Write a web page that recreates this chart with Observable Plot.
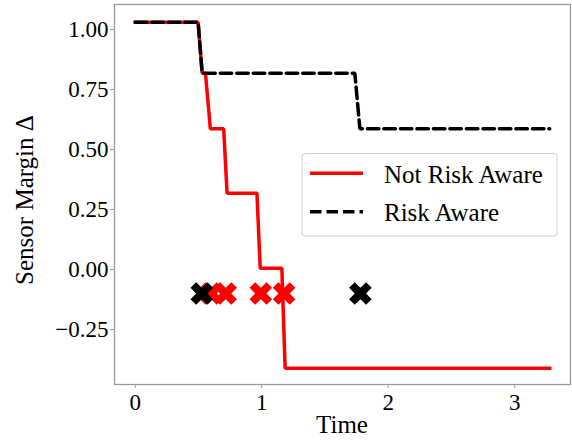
<!DOCTYPE html>
<html>
<head>
<meta charset="utf-8">
<script src="https://cdn.jsdelivr.net/npm/d3@7"></script>
<script src="https://cdn.jsdelivr.net/npm/@observablehq/plot@0.6"></script>
<style>
  html, body { margin: 0; padding: 0; background: white; }
  #chart { position: relative; width: 572px; height: 440px; }
</style>
</head>
<body>
<div id="chart"></div>
<script>
// ---- data ----
const redTime   = [0, 0.497, 0.529, 0.555, 0.594, 0.699, 0.726, 0.962, 0.988, 1.159, 1.185, 3.277];
const redMargin = [1.03, 1.03, 0.818, 0.818, 0.586, 0.586, 0.318, 0.318, 0.005, 0.005, -0.411, -0.411];
const blackTime   = [0, 0.497, 0.529, 1.736, 1.776, 3.277];
const blackMargin = [1.03, 1.03, 0.818, 0.818, 0.586, 0.586];
const redEventTime = [0.60, 0.715, 0.993, 1.177];
const blackEventTime = [0.526, 1.78];
const eventLevel = -0.1;
const xTicks = [0, 1, 2, 3];
const yTicks = [-0.25, 0, 0.25, 0.5, 0.75, 1.0];
const seriesNames = ["Not Risk Aware", "Risk Aware"];

const redData = redTime.map((t, i) => ({t, v: redMargin[i]}));
const blackData = blackTime.map((t, i) => ({t, v: blackMargin[i]}));
const redEvents = redEventTime.map(t => ({t, v: eventLevel}));
const blackEvents = blackEventTime.map(t => ({t, v: eventLevel}));

// filled "X" marker like matplotlib's
const XSymbol = {
  draw(ctx, size) {
    const r = Math.sqrt(size / Math.PI);
    const u = r / 2;
    const pts = [[-1,-2],[0,-1],[1,-2],[2,-1],[1,0],[2,1],[1,2],[0,1],[-1,2],[-2,1],[-1,0],[-2,-1]];
    ctx.moveTo(pts[0][0]*u, pts[0][1]*u);
    for (let i = 1; i < pts.length; i++) ctx.lineTo(pts[i][0]*u, pts[i][1]*u);
    ctx.closePath();
  }
};

const FONT = "Liberation Serif, Times New Roman, serif";
const fmtY = d => (d < 0 ? "\u2212" : "") + Math.abs(d).toFixed(2);

const chart = Plot.plot({
  width: 572,
  height: 440,
  marginLeft: 114,
  marginRight: 2,
  marginTop: 4,
  marginBottom: 56,
  style: {fontFamily: FONT, fontSize: "23px", color: "#000", background: "white"},
  x: {domain: [-0.164, 3.441]},
  y: {domain: [-0.479, 1.104]},
  marks: [
    Plot.axisX({ticks: xTicks, tickSize: 4, tickPadding: 5, stroke: "#999", fill: "#000", tickFormat: d => String(d), label: null, fontSize: 23}),
    Plot.axisY({ticks: yTicks, tickSize: 4, tickPadding: 2, stroke: "#999", fill: "#000", tickFormat: fmtY, label: null, fontSize: 23}),
    Plot.line(redData, {x: "t", y: "v", stroke: "#ff0000", strokeWidth: 3.5, strokeLinejoin: "miter", strokeLinecap: "square"}),
    Plot.line(blackData, {x: "t", y: "v", stroke: "#000", strokeWidth: 3.5, strokeDasharray: "11.5,5", strokeLinejoin: "miter"}),
    Plot.dot(redEvents, {x: "t", y: "v", symbol: XSymbol, r: 11.3, fill: "#ff0000", stroke: "none"}),
    Plot.dot(blackEvents, {x: "t", y: "v", symbol: XSymbol, r: 11.3, fill: "#000", stroke: "none"}),
    Plot.frame({stroke: "#999", strokeWidth: 1.3})
  ]
});

document.getElementById("chart").appendChild(chart);

const svg = d3.select(chart);
// axis titles
svg.append("text")
  .attr("x", 342).attr("y", 433)
  .attr("text-anchor", "middle")
  .attr("font-family", FONT).attr("font-size", 25).attr("fill", "#000")
  .text("Time");
svg.append("text")
  .attr("transform", "translate(33,200) rotate(-90)")
  .attr("text-anchor", "middle")
  .attr("font-family", FONT).attr("font-size", 25).attr("fill", "#000")
  .text("Sensor Margin \u0394");

// legend
const lg = svg.append("g");
lg.append("rect")
  .attr("x", 302).attr("y", 153.5).attr("width", 255).attr("height", 82.5)
  .attr("rx", 3).attr("fill", "white").attr("fill-opacity", 0.8)
  .attr("stroke", "#d0d0d0").attr("stroke-width", 1);
lg.append("line").attr("x1", 310).attr("x2", 363).attr("y1", 173.3).attr("y2", 173.3)
  .attr("stroke", "#ff0000").attr("stroke-width", 3.5);
lg.append("line").attr("x1", 310).attr("x2", 363).attr("y1", 211.7).attr("y2", 211.7)
  .attr("stroke", "#000").attr("stroke-width", 3.5).attr("stroke-dasharray", "11.5,5");
lg.append("text").attr("x", 384).attr("y", 183.3).attr("text-anchor", "start")
  .attr("font-family", FONT).attr("font-size", 25).attr("fill", "#000").text(seriesNames[0]);
lg.append("text").attr("x", 384).attr("y", 221).attr("text-anchor", "start")
  .attr("font-family", FONT).attr("font-size", 25).attr("fill", "#000").text(seriesNames[1]);
</script>
</body>
</html>
